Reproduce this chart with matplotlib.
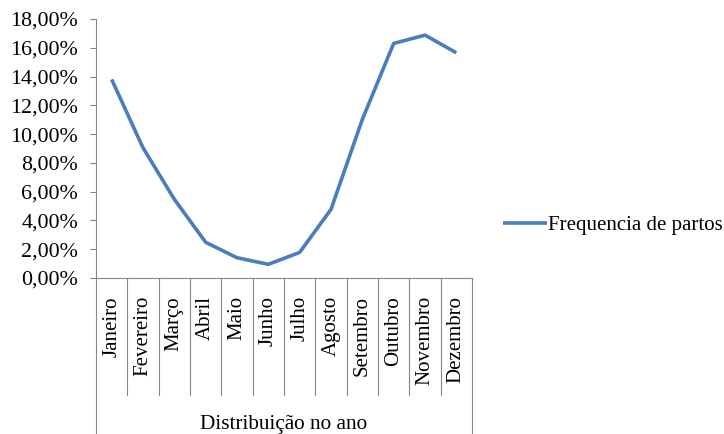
import matplotlib
matplotlib.use("Agg")
import matplotlib.pyplot as plt
import matplotlib.transforms as mtransforms

months = ["Janeiro", "Fevereiro", "Março", "Abril", "Maio", "Junho",
          "Julho", "Agosto", "Setembro", "Outubro", "Novembro", "Dezembro"]
freq = [13.8, 9.05, 5.47, 2.48, 1.41, 0.95, 1.78, 4.77, 11.02, 16.3, 16.88, 15.65]
ytick_vals = [0, 2, 4, 6, 8, 10, 12, 14, 16, 18]
ytick_labels = ["0,00%", "2,00%", "4,00%", "6,00%", "8,00%", "10,00%",
                "12,00%", "14,00%", "16,00%", "18,00%"]
series_name = "Frequencia de partos"
xlabel = "Distribuição no ano"

plt.rcParams['font.family'] = ['Liberation Serif', 'DejaVu Serif']
FS = 15
GRAY = "#868686"
BLUE = "#4a7ebb"

W, H = 724, 434
fig = plt.figure(figsize=(W / 100, H / 100), dpi=100)
left, right, top, bottom = 96, 472, 19, 278
ax = fig.add_axes([left / W, 1 - bottom / H, (right - left) / W, (bottom - top) / H])

x = list(range(1, len(months) + 1))
ax.plot(x, freq, color=BLUE, lw=2.6, solid_capstyle='butt', label=series_name)

ax.set_xlim(0.5, len(months) + 0.5)
ax.set_ylim(0, 18)
ax.set_yticks(ytick_vals)
ax.set_yticklabels(ytick_labels, fontsize=15.8)
ax.tick_params(axis='y', direction='out', length=4.3, width=0.8, color=GRAY, pad=8.6)

ax.set_xticks(x)
ax.set_xticklabels(months, rotation=90, fontsize=FS, va='top', ha='center')
ax.tick_params(axis='x', length=0, pad=13)

for s in ['top', 'right']:
    ax.spines[s].set_visible(False)
for s in ['left', 'bottom']:
    ax.spines[s].set_color(GRAY)
    ax.spines[s].set_linewidth(0.8)

trans = mtransforms.blended_transform_factory(ax.transData, ax.transAxes)
ph = bottom - top
div_bottom = (bottom - 395) / ph
outer_bottom = (bottom - H - 2) / ph
for i in range(len(months) + 1):
    xb = i + 0.5
    yb = outer_bottom if i in (0, len(months)) else div_bottom
    ax.plot([xb, xb], [0, yb], transform=trans, color=GRAY, lw=0.8, clip_on=False)

fig.text((left + right) / 2 / W, 1 - 424 / H, xlabel, ha='center', va='center', fontsize=15.3)

ax.legend(loc='center left', bbox_to_anchor=(503 / W, 1 - 225 / H), bbox_transform=fig.transFigure,
          frameon=False, fontsize=FS, handlelength=2.1, handletextpad=0.05,
          borderpad=0, borderaxespad=0)

fig.savefig("out.png", dpi=100)
